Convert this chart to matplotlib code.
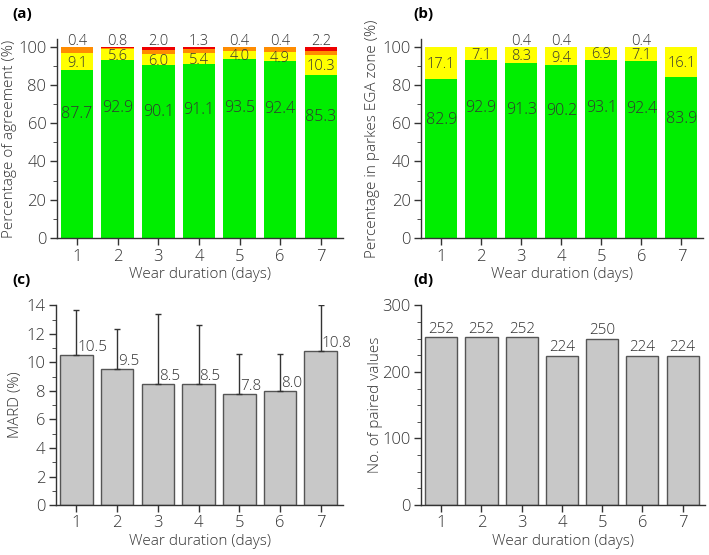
import numpy as np
import matplotlib
matplotlib.use("Agg")
import matplotlib.pyplot as plt
from matplotlib.ticker import MultipleLocator

plt.rcParams['font.family'] = ['Open Sans', 'DejaVu Sans']
plt.rcParams['font.weight'] = 'light'
plt.rcParams['font.size'] = 10.5
plt.rcParams['text.color'] = '#333333'
plt.rcParams['axes.labelcolor'] = '#333333'
plt.rcParams['axes.labelweight'] = 'light'
plt.rcParams['xtick.color'] = '#333333'
plt.rcParams['ytick.color'] = '#333333'

days = [1, 2, 3, 4, 5, 6, 7]

# (a) percentage of agreement
agree_green = [87.7, 92.9, 90.1, 91.1, 93.5, 92.4, 85.3]
agree_yellow = [9.1, 5.6, 6.0, 5.4, 4.0, 4.9, 10.3]
agree_red = [0.4, 0.8, 2.0, 1.3, 0.4, 0.4, 2.2]
agree_orange = [100 - g - y - r for g, y, r in zip(agree_green, agree_yellow, agree_red)]

# (b) parkes EGA zones
ega_a = [82.9, 92.9, 91.3, 90.2, 93.1, 92.4, 83.9]
ega_b = [17.1, 7.1, 8.3, 9.4, 6.9, 7.1, 16.1]
ega_c = [0.0, 0.0, 0.4, 0.4, 0.0, 0.4, 0.0]

# (c) MARD with SD
mard = [10.5, 9.5, 8.5, 8.5, 7.8, 8.0, 10.8]
mard_sd = [3.2, 2.85, 4.9, 4.15, 2.8, 2.55, 3.2]

# (d) number of paired values
n_pairs = [252, 252, 252, 224, 250, 224, 224]

GREEN = '#00ee00'
YELLOW = '#ffff00'
ORANGE = '#ff8c00'
RED = '#ee0000'
GREY = '#c8c8c8'
FS = 10.5

fig = plt.figure(figsize=(7.09, 5.55), dpi=100)
ax_a = fig.add_axes([0.080, 0.571, 0.404, 0.359])
ax_b = fig.add_axes([0.594, 0.571, 0.398, 0.359])
ax_c = fig.add_axes([0.079, 0.090, 0.405, 0.360])
ax_d = fig.add_axes([0.594, 0.090, 0.400, 0.360])


def style(ax, ylab, lab_x):
    for s in ['top', 'right']:
        ax.spines[s].set_visible(False)
    for s in ['left', 'bottom']:
        ax.spines[s].set_color('#333333')
        ax.spines[s].set_linewidth(1.0)
    ax.tick_params(which='major', length=5, width=1.0, direction='out', labelsize=12, pad=2.5)
    ax.tick_params(which='minor', length=3, direction='out')
    ax.tick_params(axis='x', which='minor', bottom=False)
    ax.set_xticks(days)
    ax.set_xlim(0.5, 7.55)
    ax.set_xlabel("Wear duration (days)", fontsize=FS + 0.5, labelpad=2)
    ax.set_ylabel(ylab, fontsize=FS + 0.5)
    ax.yaxis.set_label_coords(lab_x, 0.5)


x = np.array(days)

# panel a
ax_a.bar(x, agree_green, 0.8, color=GREEN)
bot = np.array(agree_green)
ax_a.bar(x, agree_yellow, 0.8, bottom=bot, color=YELLOW)
bot = bot + np.array(agree_yellow)
ax_a.bar(x, agree_orange, 0.8, bottom=bot, color=ORANGE)
bot = bot + np.array(agree_orange)
ax_a.bar(x, agree_red, 0.8, bottom=bot, color=RED)
for i in range(7):
    ax_a.text(x[i], 0.6 * agree_green[i] + 12, f"{agree_green[i]:.1f}", ha='center', va='center', fontsize=FS + 1)
    ax_a.text(x[i], agree_green[i] + agree_yellow[i] / 2 - 0.9, f"{agree_yellow[i]:.1f}", ha='center', va='center', fontsize=FS)
    ax_a.text(x[i], 102.8, f"{agree_red[i]:.1f}", ha='center', va='center', fontsize=FS)
style(ax_a, "Percentage of agreement (%)", -0.14)
ax_a.set_ylim(0, 104)
ax_a.yaxis.set_major_locator(MultipleLocator(20))
ax_a.yaxis.set_minor_locator(MultipleLocator(10))

# panel b
ax_b.bar(x, ega_a, 0.8, color=GREEN)
bot = np.array(ega_a)
ax_b.bar(x, ega_b, 0.8, bottom=bot, color=YELLOW)
bot = bot + np.array(ega_b)
ax_b.bar(x, ega_c, 0.8, bottom=bot, color=ORANGE)
for i in range(7):
    ax_b.text(x[i], 0.6 * ega_a[i] + 12, f"{ega_a[i]:.1f}", ha='center', va='center', fontsize=FS + 1)
    ax_b.text(x[i], ega_a[i] + ega_b[i] / 2 - 0.9, f"{ega_b[i]:.1f}", ha='center', va='center', fontsize=FS)
    if ega_c[i] > 0:
        ax_b.text(x[i], 102.8, f"{ega_c[i]:.1f}", ha='center', va='center', fontsize=FS)
style(ax_b, "Percentage in parkes EGA zone (%)", -0.145)
ax_b.set_ylim(0, 104)
ax_b.yaxis.set_major_locator(MultipleLocator(20))
ax_b.yaxis.set_minor_locator(MultipleLocator(10))

# panel c
ax_c.bar(x, mard, 0.8, color=GREY, edgecolor='#555555', linewidth=1.0)
ax_c.errorbar(x, mard, yerr=[np.zeros(7), mard_sd], fmt='none', ecolor='#333333',
              elinewidth=1.0, capsize=2.5, capthick=1.0)
for i in range(7):
    ax_c.text(x[i] + 0.02, mard[i], f"{mard[i]:.1f}", ha='left', va='bottom', fontsize=FS + 0.5)
style(ax_c, "MARD (%)", -0.115)
ax_c.set_ylim(0, 14)
ax_c.yaxis.set_major_locator(MultipleLocator(2))
ax_c.yaxis.set_minor_locator(MultipleLocator(1))

# panel d
ax_d.bar(x, n_pairs, 0.8, color=GREY, edgecolor='#555555', linewidth=1.0)
for i in range(7):
    ax_d.text(x[i], n_pairs[i] + 1, str(n_pairs[i]), ha='center', va='bottom', fontsize=FS + 0.5)
style(ax_d, "No. of paired values", -0.134)
ax_d.set_ylim(0, 300)
ax_d.yaxis.set_major_locator(MultipleLocator(100))
ax_d.yaxis.set_minor_locator(MultipleLocator(25))

for lbl, px, py in [("(a)", 0.018, 0.975), ("(b)", 0.583, 0.975), ("(c)", 0.018, 0.495), ("(d)", 0.583, 0.495)]:
    fig.text(px, py, lbl, fontsize=FS + 0.5, fontweight='bold', color='black', va='center')

fig.savefig("out.png", dpi=100)
